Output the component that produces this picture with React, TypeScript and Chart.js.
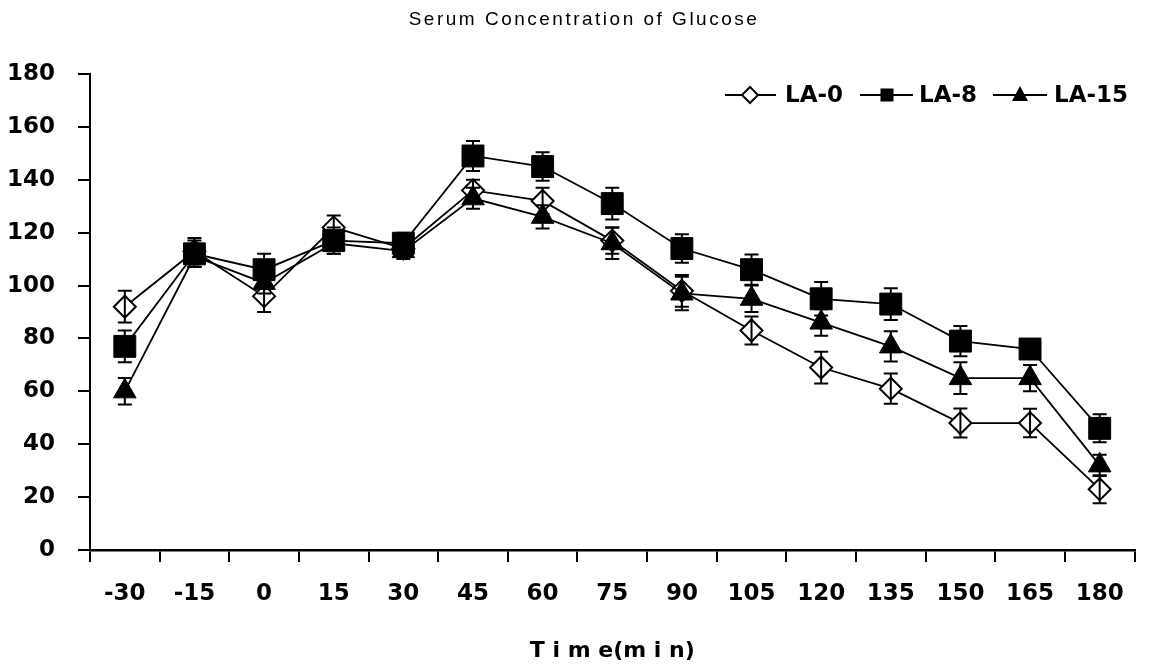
import React, { useEffect, useRef } from 'react';
import { Chart, registerables } from 'chart.js';

Chart.register(...registerables);

const timeLabels = ['-30', '-15', '0', '15', '30', '45', '60', '75', '90', '105', '120', '135', '150', '165', '180'];

const la0 = [92, 113, 96, 122, 114, 136, 132, 117, 98, 83, 69, 61, 48, 48, 23];
const la0Err = [6, 5, 6, 4.5, 3, 4, 5, 5, 6, 5.3, 6, 5.7, 5.5, 5.4, 5.3];

const la8 = [77, 112, 106, 117, 116, 149, 145, 131, 114, 106, 95, 93, 79, 76, 46];
const la8Err = [6, 5, 6, 5, 4, 5.7, 5.4, 6, 5.4, 5.7, 6.3, 6, 5.7, 3, 5.3];

const la15 = [60, 111, 101, 116, 113, 133, 126, 116, 97, 95, 86, 77, 65, 65, 32];
const la15Err = [5, 4, 4, 4, 3, 4, 4.4, 6, 6.3, 5, 5, 5.7, 6, 5, 4];

const seriesNames = ['LA-0', 'LA-8', 'LA-15'];
const errorSets = [la0Err, la8Err, la15Err];

const chartTitle = 'Serum Concentration of Glucose';
const xTitle = 'T i m e(m i n)';

const errorBarsPlugin = {
  id: 'errorBars',
  afterDatasetsDraw(chart: any) {
    const ctx = chart.ctx;
    const yScale = chart.scales.y;
    chart.data.datasets.forEach((ds: any, i: number) => {
      const meta = chart.getDatasetMeta(i);
      const errs = errorSets[i];
      meta.data.forEach((pt: any, j: number) => {
        const v = ds.data[j];
        const e = errs[j];
        const top = yScale.getPixelForValue(v + e);
        const bot = yScale.getPixelForValue(v - e);
        ctx.save();
        ctx.strokeStyle = '#000';
        ctx.lineWidth = 2;
        ctx.beginPath();
        ctx.moveTo(pt.x, top);
        ctx.lineTo(pt.x, bot);
        ctx.moveTo(pt.x - 7, top);
        ctx.lineTo(pt.x + 7, top);
        ctx.moveTo(pt.x - 7, bot);
        ctx.lineTo(pt.x + 7, bot);
        ctx.stroke();
        ctx.restore();
      });
    });
  },
};

const textPlugin = {
  id: 'textDecor',
  afterDraw(chart: any) {
    const ctx = chart.ctx;
    const area = chart.chartArea;
    ctx.save();
    // main title
    ctx.fillStyle = '#000';
    ctx.font = '19px "Liberation Sans", Arial, sans-serif';
    (ctx as any).letterSpacing = '2.5px';
    ctx.textAlign = 'center';
    ctx.textBaseline = 'middle';
    ctx.fillText(chartTitle, 584, 20);
    (ctx as any).letterSpacing = '0px';

    // x-axis title
    ctx.font = 'bold 22px "DejaVu Sans", sans-serif';
    ctx.fillText(xTitle, (area.left + area.right) / 2, 651);

    // legend
    const ly = 95;
    const items = [
      { x1: 725, x2: 776, mx: 750, tx: 785, style: 'diamond' },
      { x1: 860, x2: 913, mx: 887, tx: 919, style: 'square' },
      { x1: 993, x2: 1047, mx: 1020, tx: 1054, style: 'triangle' },
    ];
    ctx.textAlign = 'left';
    ctx.font = 'bold 23px "DejaVu Sans", sans-serif';
    items.forEach((it, i) => {
      ctx.strokeStyle = '#000';
      ctx.lineWidth = 2;
      ctx.beginPath();
      ctx.moveTo(it.x1, ly);
      ctx.lineTo(it.x2, ly);
      ctx.stroke();
      ctx.beginPath();
      if (it.style === 'diamond') {
        ctx.moveTo(it.mx - 8, ly);
        ctx.lineTo(it.mx, ly - 8);
        ctx.lineTo(it.mx + 8, ly);
        ctx.lineTo(it.mx, ly + 8);
        ctx.closePath();
        ctx.fillStyle = '#fff';
        ctx.fill();
        ctx.stroke();
      } else if (it.style === 'square') {
        ctx.fillStyle = '#000';
        ctx.fillRect(it.mx - 6.5, ly - 6.5, 13, 13);
      } else {
        ctx.moveTo(it.mx, ly - 9);
        ctx.lineTo(it.mx + 8, ly + 6);
        ctx.lineTo(it.mx - 8, ly + 6);
        ctx.closePath();
        ctx.fillStyle = '#000';
        ctx.fill();
      }
      ctx.fillStyle = '#000';
      ctx.fillText(seriesNames[i], it.tx, ly + 1);
    });
    ctx.restore();
  },
};

export default function App() {
  const canvasRef = useRef<HTMLCanvasElement | null>(null);

  useEffect(() => {
    document.body.style.margin = '0';
    const canvas = canvasRef.current;
    if (!canvas) return;
    const tickFont = { family: '"DejaVu Sans", sans-serif', weight: 'bold' as const, size: 23 };
    const chart = new Chart(canvas, {
      type: 'line',
      data: {
        labels: timeLabels,
        datasets: [
          {
            label: seriesNames[0],
            data: la0,
            order: 2,
            borderColor: '#000',
            borderWidth: 1.8,
            pointStyle: 'rectRot',
            pointRadius: 11,
            pointBackgroundColor: '#fff',
            pointBorderColor: '#000',
            pointBorderWidth: 2,
            tension: 0,
            clip: false as any,
          },
          {
            label: seriesNames[1],
            data: la8,
            order: 0,
            borderColor: '#000',
            borderWidth: 1.8,
            pointStyle: 'rect',
            pointRadius: 15.5,
            pointBackgroundColor: '#000',
            pointBorderColor: '#000',
            pointBorderWidth: 1,
            tension: 0,
            clip: false as any,
          },
          {
            label: seriesNames[2],
            data: la15,
            order: 1,
            borderColor: '#000',
            borderWidth: 1.8,
            pointStyle: 'triangle',
            pointRadius: 13,
            pointBackgroundColor: '#000',
            pointBorderColor: '#000',
            pointBorderWidth: 1,
            tension: 0,
            clip: false as any,
          },
        ],
      },
      options: {
        responsive: false,
        animation: false,
        devicePixelRatio: 1,
        layout: { padding: { top: 74, right: 11, left: 0, bottom: 0 } },
        plugins: {
          legend: { display: false },
          title: { display: false },
          tooltip: { enabled: false },
        },
        scales: {
          x: {
            type: 'category',
            offset: true,
            grid: {
              display: true,
              drawOnChartArea: false,
              drawTicks: true,
              tickLength: 12,
              color: '#000',
              lineWidth: 2,
              offset: true,
            },
            border: { display: true, color: '#000', width: 2.5 },
            ticks: {
              color: '#000',
              font: tickFont,
              padding: 18,
              maxRotation: 0,
              autoSkip: false,
            },
            afterFit(scale: any) {
              scale.height = 115;
            },
          },
          y: {
            min: 0,
            max: 180,
            grid: {
              display: true,
              drawOnChartArea: false,
              drawTicks: true,
              tickLength: 12,
              color: '#000',
              lineWidth: 2,
            },
            border: { display: true, color: '#000', width: 2 },
            ticks: {
              stepSize: 20,
              color: '#000',
              font: tickFont,
              padding: 23,
            },
            afterFit(scale: any) {
              scale.width = 90;
            },
          },
        },
      },
      plugins: [errorBarsPlugin, textPlugin],
    });
    return () => chart.destroy();
  }, []);

  return (
    <div style={{ position: 'absolute', left: 0, top: 0, width: 1151, height: 665, background: '#fff' }}>
      <canvas ref={canvasRef} width={1151} height={665} />
    </div>
  );
}
